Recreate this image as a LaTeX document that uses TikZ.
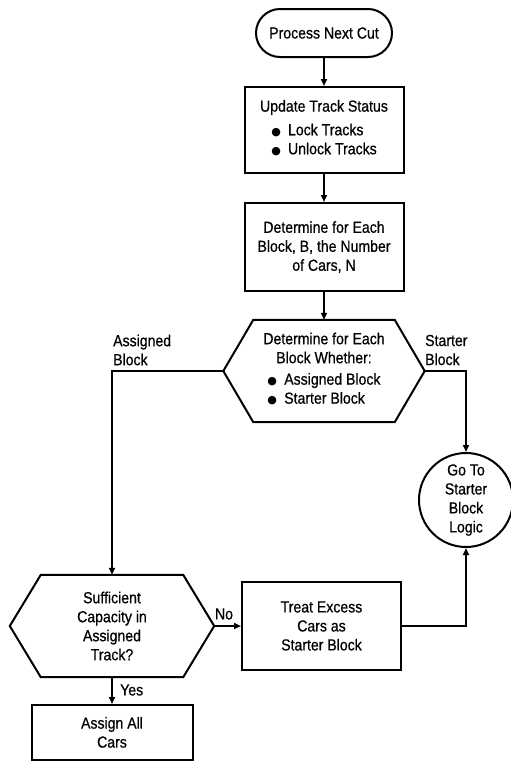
\documentclass[tikz,border=0pt]{standalone}
\usepackage{fontspec}
\setmainfont[FakeStretch=0.88,FakeBold=0.6]{Liberation Sans}
\newfontfamily\symfont{DejaVu Sans}
\usetikzlibrary{arrows.meta}
\newcommand{\blt}{{\symfont\fontsize{11}{11}\selectfont ●}\hspace{0.45em}}
\begin{document}
\begin{tikzpicture}[x=1pt,y=-1pt,
  every node/.style={font=\fontsize{16}{19}\selectfont, text=black, inner sep=0pt},
  ln/.style={line width=2pt, draw=black},
  arr/.style={ln, -{Triangle[length=7pt,width=6pt]}},
  procbox/.style={ln, draw, align=center, minimum width=159pt},
  hexnode/.style={align=center, minimum height=102pt},
  termbox/.style={ln, draw, rounded corners=24pt, minimum width=136pt, minimum height=48pt},
  connbox/.style={ln, draw, circle, minimum size=94pt, align=center},
  lbl/.style={align=left}
]
\useasboundingbox (0,0) rectangle (511,761);
\clip (0,0) rectangle (511,761);
\fill[white] (0,0) rectangle (511,761);

% nodes
\node[termbox] (start) at (324,33) {Process Next Cut};
\node[procbox, minimum height=86pt] (upd) at (324,130)
  {Update Track Status\\[6pt]
   \begin{tabular}{@{}l@{}}\blt Lock Tracks\\ \blt Unlock Tracks\end{tabular}};
\node[procbox, minimum height=88pt] (det) at (324,247)
  {Determine for Each\\Block, B, the Number\\of Cars, N};
\node[hexnode, minimum width=201pt] (hexA) at (324,371)
  {Determine for Each\\Block Whether:\\[7pt]
   \begin{tabular}{@{}l@{}}\blt Assigned Block\\ \blt Starter Block\end{tabular}};
\draw[ln] (hexA.west) -- ([xshift=30pt]hexA.north west) -- ([xshift=-30pt]hexA.north east)
  -- (hexA.east) -- ([xshift=-30pt]hexA.south east) -- ([xshift=30pt]hexA.south west) -- cycle;

\node[connbox] (goto) at (466,500) {Go To\\Starter\\Block\\Logic};

\node[hexnode, minimum width=204pt] (hexB) at (112,626)
  {Sufficient\\Capacity in\\Assigned\\Track?};
\draw[ln] (hexB.west) -- ([xshift=31pt]hexB.north west) -- ([xshift=-31pt]hexB.north east)
  -- (hexB.east) -- ([xshift=-31pt]hexB.south east) -- ([xshift=31pt]hexB.south west) -- cycle;

\node[procbox, minimum height=88pt] (treat) at (321.5,626)
  {Treat Excess\\Cars as\\Starter Block};

\node[procbox, minimum width=161pt, inner ysep=12pt, anchor=north] (assign) at (112,704)
  {Assign All\\Cars};

% connectors
\draw[arr] (start) -- (upd);
\draw[arr] (upd) -- (det);
\draw[arr] (det) -- (hexA.north);
\draw[arr] (hexA.west) -| (hexB.north);
\draw[arr] (hexA.east) -| (goto.north);
\draw[arr] (hexB.east) -- (treat.west);
\draw[arr] (treat.east) -| (goto.south);
\draw[arr] (hexB.south) -- (assign.north);

% labels
\node[lbl, anchor=west] (la) at (113,350) {Assigned\\Block};
\node[lbl, anchor=west] (ls) at (425,350) {Starter\\Block};
\node[anchor=center] (lno) at (224,614) {No};
\node[anchor=west] (lyes) at (120,690) {Yes};
\end{tikzpicture}
\end{document}
